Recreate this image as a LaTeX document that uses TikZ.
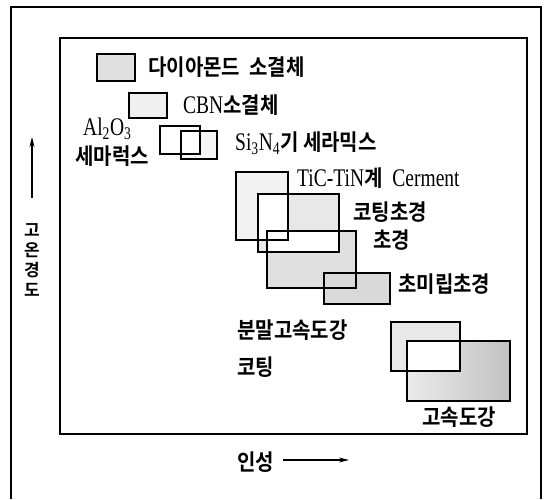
\documentclass[tikz,border=0pt]{standalone}
\usepackage{fontspec}
\setmainfont{Liberation Serif}
\newfontfamily\kr{Noto Sans CJK KR}[BoldFont={* Bold}]
\usetikzlibrary{arrows.meta}
\newcommand\krt[1]{\scalebox{1}[1.12]{\fontsize{20}{20}\selectfont\kr\bfseries #1}}
\newcommand\krv[1]{\scalebox{1}[1.0]{\fontsize{17}{17}\selectfont\kr\bfseries #1}}
\newcommand\ltn[1]{\scalebox{1}[1.3]{\fontsize{19.5}{19.5}\selectfont #1}}
\begin{document}
\begin{tikzpicture}[x=1pt,y=-1pt,
  box/.style={line width=1.5pt},
  frame/.style={line width=1.8pt},
  lbl/.style={anchor=west, inner sep=0pt},
  vch/.style={inner sep=0pt},
  axisarrow/.style={line width=1.2pt,-{Stealth[length=10pt,width=5pt]}}]
\useasboundingbox (0,0) rectangle (548,499);
% frames
\draw[frame] (11,499) -- (11,7) -- (541,7) -- (541,499);
\draw[frame] (60,38) rectangle (527,434);
% fills
\fill[gray!24] (97,54) rectangle (135,81);
\fill[gray!12] (129,93) rectangle (167,118);
\fill[gray!8] (181,131) rectangle (217,159);
\fill[gray!10] (236,172) rectangle (288,240);
\fill[gray!18] (258,194) rectangle (339,252);
\fill[gray!24] (267,231) rectangle (356,288);
\fill[gray!30] (324,273) rectangle (390,304);
\fill[gray!18] (391,322) rectangle (460,371);
\shade[left color=gray!16,right color=gray!48] (407,341) rectangle (510,401);
% white overlaps
\fill[white] (181,131) rectangle (200,154);
\fill[white] (258,194) rectangle (288,240);
\fill[white] (267,231) rectangle (339,252);
\fill[white] (407,341) rectangle (460,371);
% outlines
\draw[box] (97,54) rectangle (135,81);
\draw[box] (129,93) rectangle (167,118);
\draw[box] (160,126) rectangle (200,154);
\draw[box] (181,131) rectangle (217,159);
\draw[box] (236,172) rectangle (288,240);
\draw[box] (258,194) rectangle (339,252);
\draw[box] (267,231) rectangle (356,288);
\draw[box] (324,273) rectangle (390,304);
\draw[box] (391,322) rectangle (460,371);
\draw[box] (407,341) rectangle (510,401);
% labels
\node[lbl] (dia) at (148,67) {\krt{다이아몬드\ \ 소결체}};
\node[lbl] (cbn) at (183,105) {\ltn{CBN}\krt{소결체}};
\node[lbl] (al) at (83,129) {\ltn{Al\textsubscript{2}O\textsubscript{3}}};
\node[lbl] (alk) at (75,156) {\krt{세마럭스}};
\node[lbl] (si) at (235,143) {\ltn{Si\textsubscript{3}N\textsubscript{4}}\krt{기\ 세라믹스}};
\node[lbl] (tic) at (297,178) {\ltn{TiC-TiN}\krt{계}\ \ \ \ \ltn{Cerment}};
\node[lbl] (ct) at (353,212) {\krt{코팅초경}};
\node[lbl] (ck) at (373,240) {\krt{초경}};
\node[lbl] (cm) at (398,284) {\krt{초미립초경}};
\node[lbl] (pm) at (237,330) {\krt{분말고속도강}};
\node[lbl] (co) at (237,367) {\krt{코팅}};
\node[lbl] (hs) at (422,417) {\krt{고속도강}};
% axes
\coordinate (ya) at (32,198);
\coordinate (yb) at (32,137);
\draw[axisarrow] (ya) -- (yb);
\node[vch] (y1) at (32,230) {\krv{고}};
\node[vch] (y2) at (32,250) {\krv{온}};
\node[vch] (y3) at (32,270) {\krv{경}};
\node[vch] (y4) at (32,290) {\krv{도}};
\node[lbl] (xl) at (237,462) {\krt{인성}};
\coordinate (xa) at (283,460);
\coordinate (xb) at (349,460);
\draw[axisarrow] (xa) -- (xb);
\end{tikzpicture}
\end{document}
